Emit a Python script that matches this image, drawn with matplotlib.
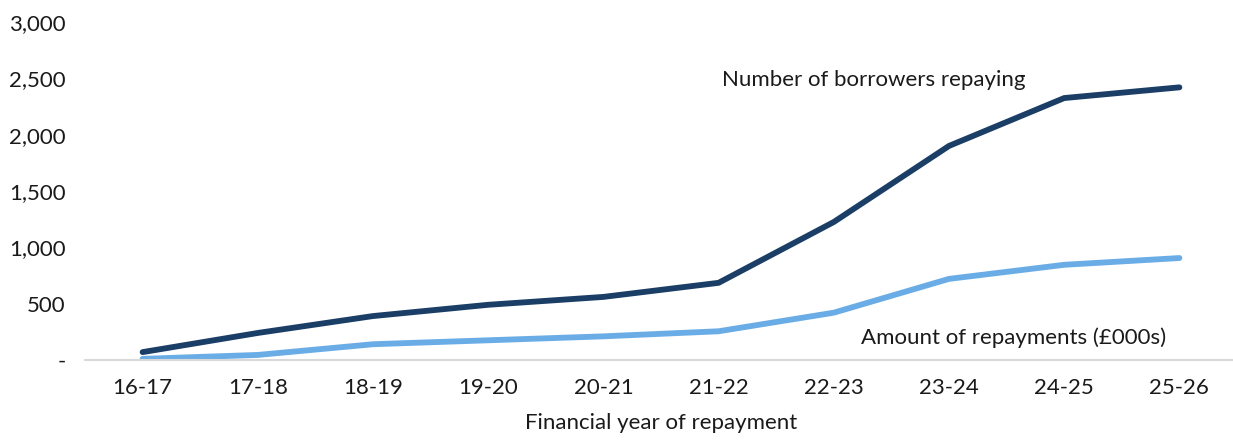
import matplotlib
matplotlib.use("Agg")
import matplotlib.pyplot as plt
from matplotlib.ticker import FuncFormatter

categories = ["16-17", "17-18", "18-19", "19-20", "20-21", "21-22", "22-23", "23-24", "24-25", "25-26"]
borrowers = [70, 240, 390, 490, 560, 685, 1225, 1900, 2325, 2420]
repayments = [10, 45, 140, 175, 210, 255, 420, 720, 845, 905]

plt.rcParams['font.family'] = ['Lato', 'DejaVu Sans']

fig = plt.figure(figsize=(12.33, 4.4), dpi=100)
ax = fig.add_axes([85/1233, 1 - 360/440, (1237-85)/1233, (360-22)/440])

x = list(range(len(categories)))
dark = "#1B3E66"
light = "#6AADE6"
ax.plot(x, borrowers, color=dark, lw=4.2, solid_capstyle='round', solid_joinstyle='round')
ax.plot(x, repayments, color=light, lw=4.2, solid_capstyle='round', solid_joinstyle='round')

ax.set_ylim(0, 3000)
ax.set_xlim(-0.5, len(categories) - 0.5)
ax.set_yticks([0, 500, 1000, 1500, 2000, 2500, 3000])
ax.yaxis.set_major_formatter(FuncFormatter(lambda v, p: "-" if v == 0 else f"{int(v):,}"))
ax.set_xticks(x)
ax.set_xticklabels(categories)

fs = 16
for s in ["top", "right", "left"]:
    ax.spines[s].set_visible(False)
ax.spines["bottom"].set_color("#D9D9D9")
ax.spines["bottom"].set_linewidth(1.5)
ax.tick_params(axis="both", length=0, labelsize=fs, colors="#1a1a1a")
ax.tick_params(axis="y", pad=14)
ax.tick_params(axis="x", pad=13)

ax.set_xlabel("Financial year of repayment", fontsize=fs, color="#1a1a1a", labelpad=11)

ax.text(5.03, 2485, "Number of borrowers repaying", fontsize=fs, color="#1a1a1a", va="center", ha="left")
ax.text(7.56, 195, "Amount of repayments (£000s)", fontsize=fs, color="#1a1a1a", va="center", ha="center")

fig.savefig("out.png", dpi=100)
